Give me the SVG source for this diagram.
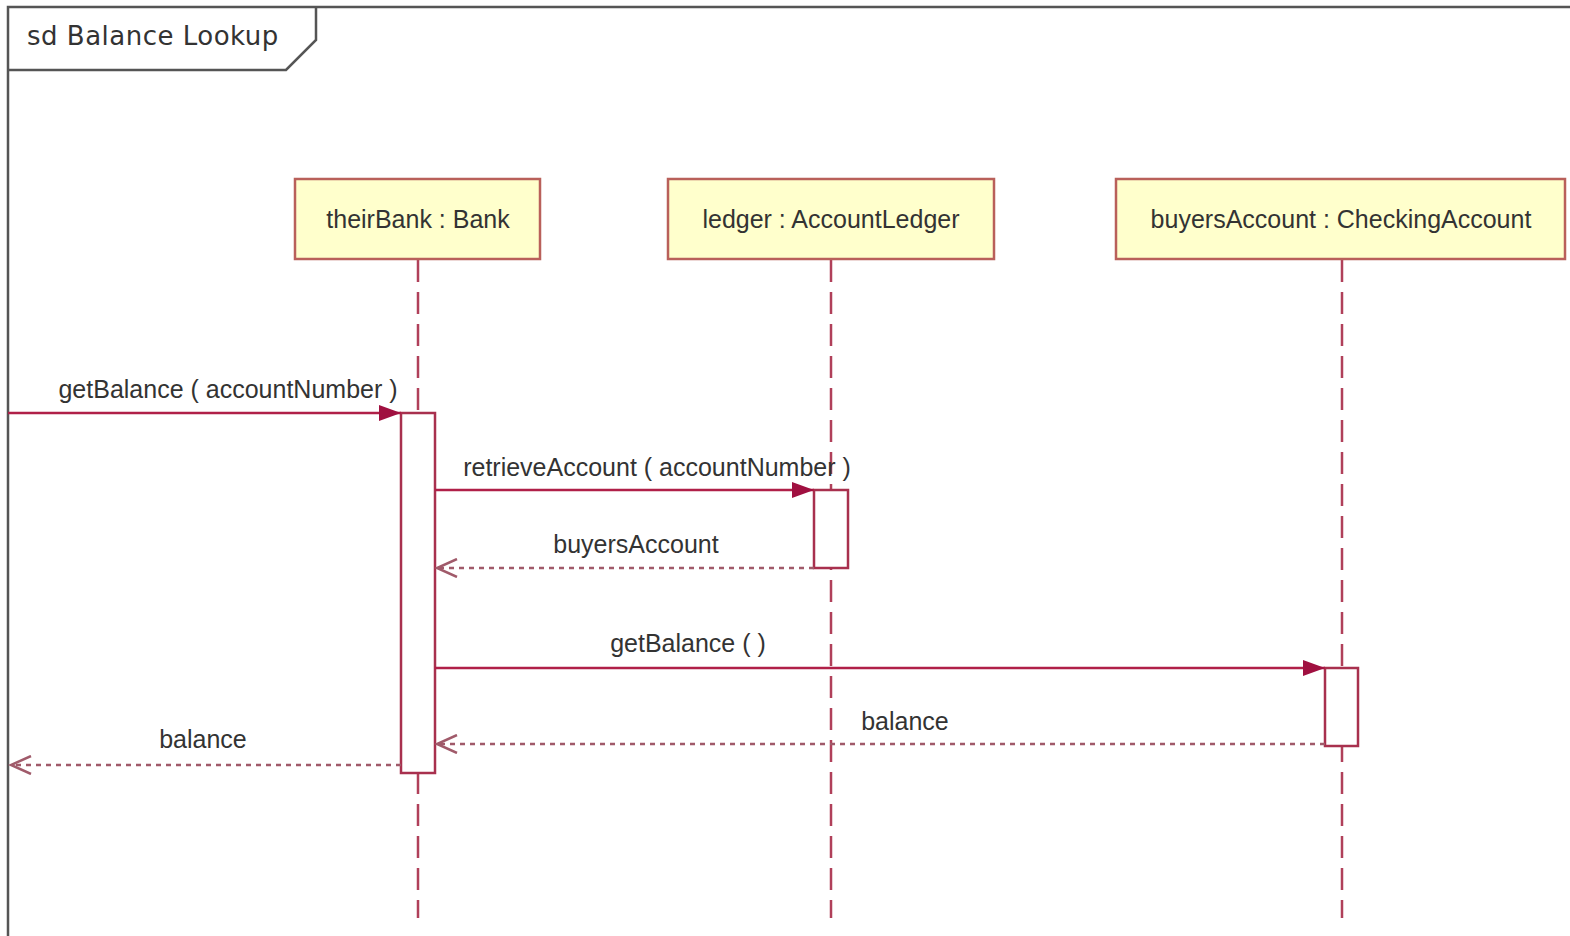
<svg xmlns="http://www.w3.org/2000/svg" width="1570" height="936" viewBox="0 0 1570 936">
<style>
.frame{fill:none;stroke:#555;stroke-width:2.5}
.head{fill:#ffffcc;stroke:#b9605a;stroke-width:2.5}
.life{stroke:#b0405a;stroke-width:2.5;stroke-dasharray:22,10;fill:none}
.act{fill:#fff;stroke:#a8304e;stroke-width:2.5}
.msg{stroke:#b02048;stroke-width:2.5;fill:none}
.ret{stroke:#a05a6a;stroke-width:2.5;stroke-dasharray:5,5;fill:none}
.t{font-family:"Liberation Sans",Arial,sans-serif;font-size:25px;fill:#333;text-anchor:middle}
.title{font-family:"DejaVu Sans",sans-serif;font-size:26px;fill:#333;letter-spacing:0.5px}
</style>
<defs>
<marker id="filled" markerWidth="24" markerHeight="16" refX="22" refY="8" orient="auto" markerUnits="userSpaceOnUse">
<path d="M0,0 L22,8 L0,16 Z" fill="#a01040"/>
</marker>
<marker id="open" markerWidth="24" markerHeight="20" refX="21" refY="10" orient="auto" markerUnits="userSpaceOnUse">
<path d="M1,1 L21,10 L1,19" fill="none" stroke="#a05a6a" stroke-width="2.5"/>
</marker>
</defs>
<rect width="1570" height="936" fill="#fff"/>
<g id="frame">
<path class="frame" d="M8,936 L8,7 L1570,7"/>
<path class="frame" d="M316,7 L316,40 L286,70 L8,70"/>
<text class="title" x="27" y="45">sd Balance Lookup</text>
</g>
<g id="lifelines">
<line class="life" x1="418" y1="260" x2="418" y2="918"/>
<line class="life" x1="831" y1="260" x2="831" y2="918"/>
<line class="life" x1="1342" y1="260" x2="1342" y2="918"/>
</g>
<g id="theirBank">
<rect class="head" x="295" y="179" width="245" height="80"/>
<text class="t" x="418" y="228">theirBank : Bank</text>
<rect class="act" x="401" y="413" width="34" height="360"/>
</g>
<g id="ledger">
<rect class="head" x="668" y="179" width="326" height="80"/>
<text class="t" x="831" y="228">ledger : AccountLedger</text>
<rect class="act" x="814" y="490" width="34" height="78"/>
</g>
<g id="buyersAccount">
<rect class="head" x="1116" y="179" width="449" height="80"/>
<text class="t" x="1341" y="228">buyersAccount : CheckingAccount</text>
<rect class="act" x="1325" y="668" width="33" height="78"/>
</g>
<g id="connectors">
<line class="msg" x1="8" y1="413" x2="401" y2="413" marker-end="url(#filled)"/>
<text class="t" x="228" y="398">getBalance ( accountNumber )</text>
<line class="msg" x1="435" y1="490" x2="814" y2="490" marker-end="url(#filled)"/>
<text class="t" x="657" y="476">retrieveAccount ( accountNumber )</text>
<line class="ret" x1="814" y1="568" x2="437" y2="568" marker-end="url(#open)"/>
<text class="t" x="636" y="553">buyersAccount</text>
<line class="msg" x1="435" y1="668" x2="1325" y2="668" marker-end="url(#filled)"/>
<text class="t" x="688" y="652">getBalance (  )</text>
<line class="ret" x1="1325" y1="744" x2="437" y2="744" marker-end="url(#open)"/>
<text class="t" x="905" y="730">balance</text>
<line class="ret" x1="401" y1="765" x2="11" y2="765" marker-end="url(#open)"/>
<text class="t" x="203" y="748">balance</text>
</g>
</svg>
